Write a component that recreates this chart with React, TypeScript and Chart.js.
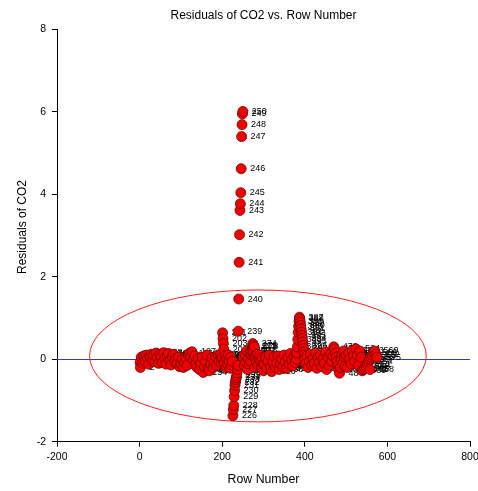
import React, { useEffect, useRef } from "react";
import { Chart, registerables } from "chart.js";

Chart.register(...registerables);

// [row number, residual]
const bandStart: number[][] = [
  [1, -0.08], [2, -0.2], [4, 0.05], [7, -0.1], [10, 0.08], [13, -0.05], [16, 0.1], [19, 0.02], [22, -0.12], [25, 0.06],
  [28, 0.12], [31, -0.04], [34, 0.1], [37, -0.06], [40, 0.15], [43, 0.04], [46, -0.1], [49, 0.12], [52, 0.05], [55, -0.08],
  [58, 0.16], [61, 0.02], [64, -0.12], [67, 0.08], [70, 0.14], [73, -0.04], [76, -0.14], [79, 0.06], [82, 0.12], [85, -0.06],
  [88, 0.02], [91, -0.1], [94, 0.05], [97, -0.18], [100, -0.12], [103, 0.0], [106, -0.2], [109, -0.08], [112, 0.04], [115, -0.15],
  [118, 0.1], [121, 0.15], [124, 0.05], [127, 0.18], [130, -0.02], [133, 0.08], [136, -0.12], [139, -0.2], [142, 0.02], [145, -0.25],
  [148, -0.1], [151, 0.05], [154, -0.32], [157, -0.18], [160, -0.05], [163, 0.1], [166, -0.22], [169, -0.28], [172, -0.12], [175, 0.04],
  [178, -0.2], [181, -0.08], [184, 0.06], [187, -0.15], [190, 0.1], [193, -0.04], [196, 0.12], [198, -0.1], [199, 0.02],
];
const riseNear200: number[][] = [[200, 0.05], [201, 0.64], [202, 0.5], [203, 0.38], [204, 0.24]];
const band205: number[][] = [
  [205, -0.1], [207, 0.08], [209, -0.2], [211, 0.02], [213, -0.12], [215, 0.1], [217, -0.05], [219, -0.22], [221, 0.05], [223, -0.15], [225, -0.05],
];
const dropColumn: number[][] = [
  [226, -1.37], [227, -1.22], [228, -1.12], [229, -0.91], [230, -0.76], [231, -0.63], [232, -0.56], [233, -0.5], [234, -0.45],
  [235, -0.4], [236, -0.33], [237, -0.25], [238, -0.15],
];
const spike240: number[][] = [
  [239, 0.68], [240, 1.46], [241, 2.35], [242, 3.02], [243, 3.61], [244, 3.77], [245, 4.04], [246, 4.62], [247, 5.4], [248, 5.69], [249, 5.95], [250, 6.01],
];
const band251: number[][] = [
  [251, 0.05], [253, -0.15], [255, 0.12], [257, -0.08], [259, 0.2], [261, -0.25], [263, 0.0], [265, -0.12], [267, 0.15], [269, -0.05],
  [271, 0.1], [272, 0.2], [273, 0.3], [274, 0.38], [275, 0.22], [276, 0.33], [277, 0.05], [278, 0.3], [279, -0.2], [281, 0.05],
  [283, -0.08], [285, 0.12], [287, -0.15], [289, 0.0], [291, 0.1], [293, -0.05], [295, -0.2], [297, 0.04], [299, -0.12], [300, -0.28],
];
const band302: number[][] = [
  [302, -0.15], [305, 0.05], [308, -0.22], [311, -0.05], [314, 0.1], [317, -0.18], [320, -0.3], [323, -0.08], [326, 0.06], [329, -0.2],
  [332, -0.1], [335, 0.08], [338, -0.25], [341, -0.12], [344, 0.02], [347, -0.18], [350, 0.1], [353, -0.06], [356, -0.22], [359, 0.04],
  [362, -0.12], [365, 0.14], [368, -0.02], [371, -0.16], [374, 0.06], [377, -0.08], [379, 0.12],
];
const spike390: number[][] = [
  [380, 0.0], [381, 0.15], [382, 0.3], [383, 0.48], [384, 0.65], [385, 0.8], [386, 0.92], [387, 1.02], [388, 0.98], [389, 0.9],
  [390, 0.82], [391, 0.74], [392, 0.66], [393, 0.58], [394, 0.5], [395, 0.42], [396, 0.34], [397, 0.26], [398, 0.18], [399, 0.1], [400, 0.02],
];
const band402: number[][] = [
  [402, -0.12], [405, 0.08], [408, -0.2], [411, -0.05], [414, 0.12], [417, -0.15], [420, 0.02], [423, -0.1], [426, 0.15], [429, -0.22],
  [432, 0.05], [435, -0.08], [438, 0.1], [441, -0.18], [444, 0.0], [447, -0.1], [450, 0.18], [453, -0.25], [456, 0.05], [459, -0.15],
  [462, 0.12], [465, -0.05], [468, 0.08],
];
const column480: number[][] = [
  [470, 0.3], [472, 0.25], [474, 0.15], [476, 0.05], [478, -0.05], [480, -0.15], [482, -0.25], [484, -0.34], [486, -0.2], [488, 0.0],
  [490, 0.12], [492, -0.1], [494, 0.2], [496, 0.05], [498, -0.18], [500, 0.1],
];
const bandEnd: number[][] = [
  [503, -0.2], [506, 0.15], [509, 0.02], [512, -0.12], [515, 0.22], [518, 0.08], [521, -0.05], [524, 0.25], [527, 0.1], [530, -0.15],
  [533, 0.2], [536, 0.05], [539, -0.28], [542, -0.25], [545, -0.22], [548, -0.18], [551, -0.12], [554, -0.06], [557, 0.0], [558, -0.25],
  [560, 0.05], [563, 0.1], [566, 0.16], [569, 0.2], [572, 0.12], [575, 0.05],
];

const xTicks = [-200, 0, 200, 400, 600, 800];
const yTicks = [-2, 0, 2, 4, 6, 8];
// confidence ellipse: centre and semi-axes in data units
const ellipseCenter = [286.5, 0.08];
const ellipseRadii = [407.6, 1.6];

const FONT = "'Liberation Sans', Arial, sans-serif";

export default function App() {
  const ref = useRef<HTMLCanvasElement>(null);
  useEffect(() => {
    const all = [
      ...bandStart, ...riseNear200, ...band205, ...dropColumn, ...spike240, ...band251,
      ...band302, ...spike390, ...band402, ...column480, ...bandEnd,
    ];
    const points = all.map(([r, v]) => ({ x: r, y: v }));

    const overlay = {
      id: "overlay",
      beforeDatasetsDraw(chart: any) {
        const { ctx, chartArea, scales } = chart;
        const xs = scales.x, ys = scales.y;
        ctx.save();
        const y0 = Math.round(ys.getPixelForValue(0)) + 0.5;
        ctx.strokeStyle = "#3c3ca8";
        ctx.lineWidth = 1;
        ctx.beginPath();
        ctx.moveTo(chartArea.left, y0);
        ctx.lineTo(chartArea.right, y0);
        ctx.stroke();
        const cx = xs.getPixelForValue(ellipseCenter[0]);
        const cy = ys.getPixelForValue(ellipseCenter[1]);
        const rx = Math.abs(xs.getPixelForValue(ellipseCenter[0] + ellipseRadii[0]) - cx);
        const ry = Math.abs(ys.getPixelForValue(ellipseCenter[1] + ellipseRadii[1]) - cy);
        ctx.strokeStyle = "#ff2020";
        ctx.beginPath();
        ctx.ellipse(cx, cy, rx, ry, 0, 0, Math.PI * 2);
        ctx.stroke();
        const meta = chart.getDatasetMeta(0);
        ctx.fillStyle = "#000";
        ctx.font = `9px ${FONT}`;
        ctx.textAlign = "left";
        ctx.textBaseline = "middle";
        meta.data.forEach((el: any, i: number) => {
          ctx.fillText(String(all[i][0]), el.x + 9, el.y);
        });
        ctx.restore();
      },
      afterDraw(chart: any) {
        const { ctx } = chart;
        ctx.save();
        ctx.translate(23, 227);
        ctx.rotate(-Math.PI / 2);
        ctx.fillStyle = "#000";
        ctx.font = `12px ${FONT}`;
        ctx.textAlign = "center";
        ctx.textBaseline = "middle";
        ctx.fillText("Residuals of CO2", 0, 0);
        ctx.restore();
      },
    };

    const chart = new Chart(ref.current as HTMLCanvasElement, {
      type: "scatter",
      data: {
        datasets: [
          {
            data: points,
            backgroundColor: "#f00000",
            borderColor: "#700000",
            borderWidth: 0.8,
            pointRadius: 5,
            pointHoverRadius: 5,
          },
        ],
      },
      options: {
        responsive: false,
        animation: false,
        devicePixelRatio: 1,
        layout: { padding: { top: 5, right: 8, bottom: 0, left: 0 } },
        plugins: {
          legend: { display: false },
          tooltip: { enabled: false },
          title: {
            display: true,
            text: "Residuals of CO2 vs. Row Number",
            fullSize: false,
            color: "#000",
            font: { family: FONT, size: 12, weight: "normal" },
            padding: { top: 3, bottom: 7 },
          },
        },
        scales: {
          x: {
            type: "linear",
            min: -200,
            max: 800,
            afterBuildTicks: (s: any) => {
              s.ticks = xTicks.map((v) => ({ value: v }));
            },
            afterFit: (s: any) => {
              s.height = 49.3;
              s.paddingLeft = 0;
              s.paddingRight = 0;
            },
            ticks: { color: "#000", font: { family: FONT, size: 10.5 }, padding: 4, maxRotation: 0, autoSkip: false },
            grid: { drawOnChartArea: false, drawTicks: true, tickLength: 5, color: "#000" },
            border: { display: true, color: "#000", width: 1 },
            title: {
              display: true,
              text: "Row Number",
              color: "#000",
              font: { family: FONT, size: 12.3 },
              padding: { top: 0, bottom: 4 },
            },
          },
          y: {
            type: "linear",
            min: -2,
            max: 8,
            afterBuildTicks: (s: any) => {
              s.ticks = yTicks.map((v) => ({ value: v }));
            },
            afterFit: (s: any) => {
              s.width = 57;
              s.paddingTop = 0;
              s.paddingBottom = 0;
            },
            ticks: { color: "#000", font: { family: FONT, size: 10.5 }, padding: 6, autoSkip: false },
            grid: { drawOnChartArea: false, drawTicks: true, tickLength: 5, color: "#000" },
            border: { display: true, color: "#000", width: 1 },
            title: { display: false },
          },
        },
      },
      plugins: [overlay],
    } as any);
    return () => chart.destroy();
  }, []);

  return (
    <div style={{ position: "absolute", left: 0, top: 0, width: 478, height: 491, background: "#fff" }}>
      <canvas ref={ref} width={478} height={491} style={{ display: "block" }} />
    </div>
  );
}
